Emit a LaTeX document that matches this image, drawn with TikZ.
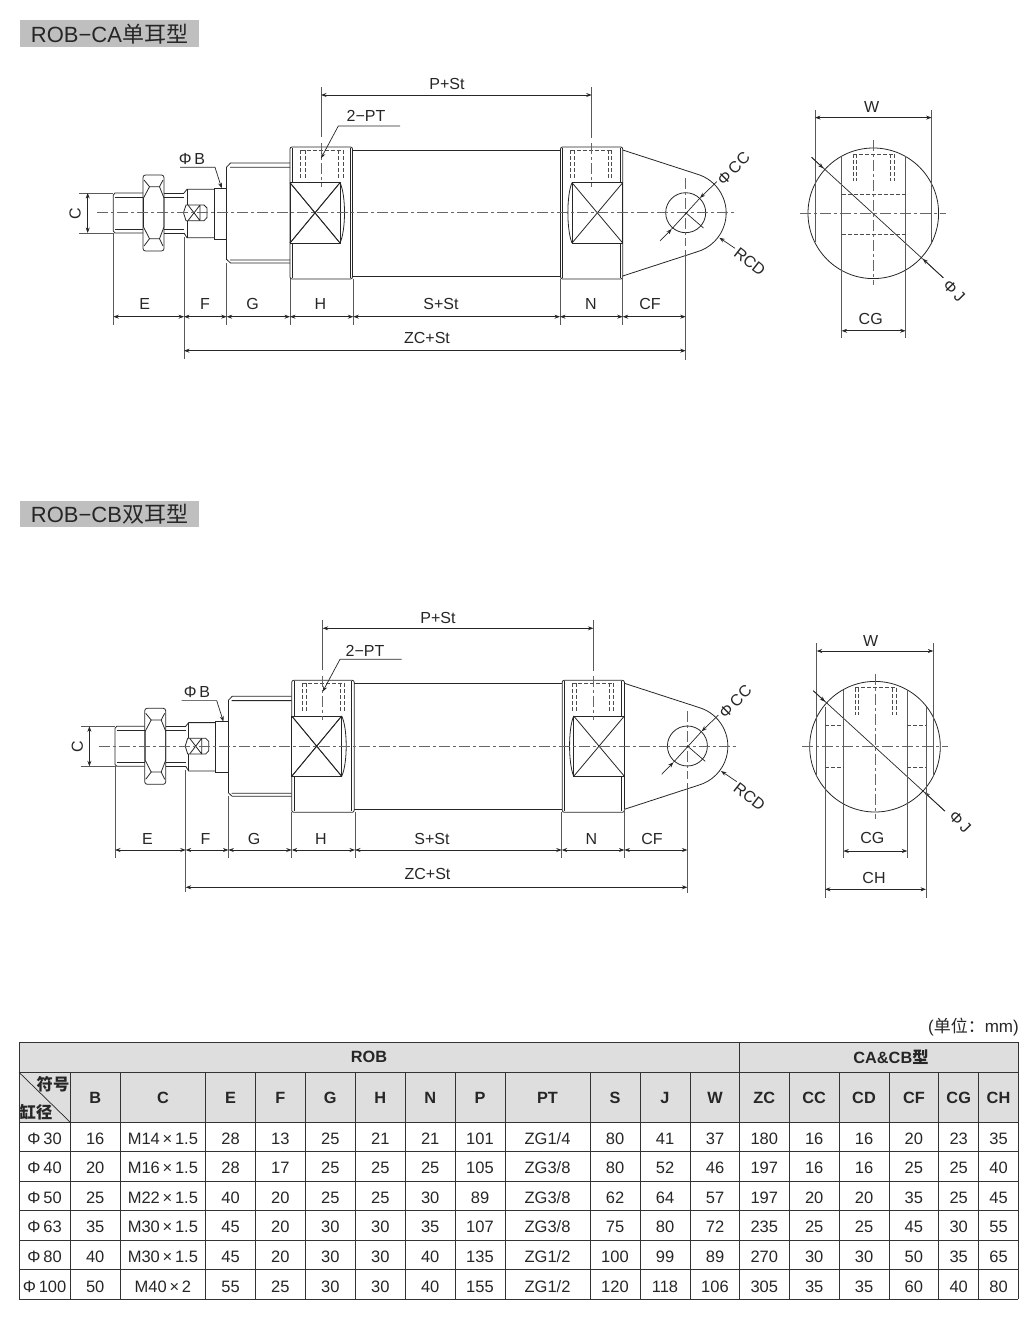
\documentclass[tikz,border=0pt]{standalone}
\usepackage{fontspec}
\setmainfont{Liberation Sans}
\newfontfamily\cjk{Noto Sans CJK SC}
\usetikzlibrary{arrows.meta}

\newcommand{\sizedim}{\fontsize{16}{18}\selectfont}
\def\colx{{44.6,95.2,162.9,230.5,280.3,330.3,380.3,430.2,480,547.5,615,665,715,764.3,814.2,864,913.9,958.7,998.5}}

% side view, common to both types
\newcommand{\robside}{
    \draw[outline] (113.3,195) -- (115,193) -- (143,193) (113.3,231) -- (115,233) -- (143,233) (113.3,195) -- (113.3,231);
    \draw[outline] (115,197) -- (143,197) (115,229.5) -- (143,229.5);
    \draw[outline,rounded corners=2.5] (143,175) rectangle (164,251);
    \draw[outline] (144,180) -- (149.5,186.7) -- (159.5,186.7) -- (163,180);
    \draw[outline] (149.5,186.7) -- (143.5,198) -- (143.5,227) -- (149.5,238.7) -- (159.5,238.7) -- (164,227) -- (164,198) -- (159.5,186.7);
    \draw[outline] (144,246) -- (149.5,238.7) (163,246) -- (159.5,238.7);
    \draw[outline] (164,193) -- (184,193) (164,197) -- (184,197) (164,229.5) -- (184,229.5) (164,233) -- (184,233);
    \draw[outline] (184,193) -- (187,189.3) -- (214,189.3) (184,233) -- (187,237.7) -- (214,237.7);
    \draw[outline] (187,189.3) -- (187,205) (187,220.7) -- (187,237.7);
    \draw[outline] (186,205) -- (204,205) -- (207,208) -- (207,217.5) -- (204,220.7) -- (186,220.7) -- (183.5,212.7) -- cycle;
    \draw[outline] (188,205) -- (200,220.7) (188,220.7) -- (200,205) (200,205) -- (200,220.7);
    \draw[outline] (214,188) rectangle (226.7,239);
    \draw[outline] (226.7,167) -- (230.5,163) -- (290,163) (230,167.3) -- (290,167.3);
    \draw[outline] (226.7,259.5) -- (230.5,263) -- (290,263) (230,260) -- (290,260);
    \draw[outline] (226.7,167) -- (226.7,259.5);
    % ported blocks and barrel
    \draw[outline,rounded corners=2] (290,147) rectangle (352.5,279);
    \draw[outline] (292.5,148) -- (292.5,278) (350,148) -- (350,278);
    \draw[outline,fill=white] (290,182.7) rectangle (340,243);
    \draw[outline] (290,182.7) -- (340,243) (290,243) -- (340,182.7);
    \draw[outline] (340,182.7) .. controls (346,195) and (346,230) .. (340,243);
    \draw[outline] (352.5,150) -- (560,150) (352.5,276) -- (560,276);
    \draw[outline,rounded corners=2] (560.5,147) rectangle (622.7,279);
    \draw[outline] (562.7,148) -- (562.7,278) (620,148) -- (620,278);
    \draw[outline,fill=white] (572,182.7) rectangle (622.7,243);
    \draw[outline] (572,182.7) -- (622.7,243) (572,243) -- (622.7,182.7);
    \draw[outline] (572,182.7) .. controls (566.5,195) and (566.5,230) .. (572,243);
    \foreach \portx in {300.7,305,338.5,343,570.7,574.3,608,611.7}
        \draw[hidden] (\portx,150) -- (\portx,178);
    \draw[hidden] (300.7,150) -- (343,150) (570.7,150) -- (611.7,150);
    % eye end
    \draw[outline] (622.7,150) -- (696.7,174) arc[start angle=-74.2,end angle=74.2,radius=40.5] -- (622.7,276);
    \draw[outline] (685.7,212.7) circle (20);
    % centre lines
    \draw[axis] (97,212.7) -- (737,212.7);
    \draw[axis] (321,143) -- (321,187) (591.7,143) -- (591.7,187) (685.7,178) -- (685.7,246);
    \draw[outline] (290,182.7) -- (340,243) (290,243) -- (340,182.7);
    % extension lines
    \draw[extline] (79,193) -- (113,193) (79,233) -- (113,233);
    \draw[extline] (113.3,233) -- (113.3,325) (184,237) -- (184,359) (226.7,263) -- (226.7,325) (290,279) -- (290,325);
    \draw[extline] (353.3,279) -- (353.3,325) (560,279) -- (560,325) (622.7,276) -- (622.7,325) (685.7,250) -- (685.7,360);
    \draw[extline] (321,87) -- (321,137) (591.7,87) -- (591.7,138);
    % dimensions
    \draw[dimline] (87.7,193) -- (87.7,233);
    \foreach \dimleft/\dimright in {113.3/184,184/226.7,226.7/290,290/353.3,353.3/560,560/622.7,622.7/685.7}
        \draw[dimline] (\dimleft,316.7) -- (\dimright,316.7);
    % leaders
    \draw[leader,->] (400,126) -- (338.3,126) -- (321,158.3);
    \draw[leader,->] (180,167.3) -- (215,167.3) -- (221.7,188.3);
    \draw[leader,->] (660,241) -- (671.7,229);
    \draw[leader] (671.7,229) -- (700,198);
    \draw[leader,->] (716.7,181.7) -- (700,198);
    \draw[leader] (685.7,212.7) -- (703.5,228);
    \draw[leader,->] (735,248.3) -- (719.3,237.7);
}

% end view, drawn round its centre
\newcommand{\robfront}{
    \draw[outline] (0,0) circle (65.3);
    \draw[axis] (-73,0) -- (73,0) (0,-73) -- (0,72);
    \draw[extline] (-58.3,-103.5) -- (-58.3,29) (58.3,-103.5) -- (58.3,29);
    \draw[dimline] (-58.3,-95.7) -- (58.3,-95.7);
    \draw[hidden] (-20,-59) -- (21,-59);
    \foreach \portx in {-20,-16.5,17.5,21}
        \draw[hidden] (\portx,-59) -- (\portx,-32);
    \draw[leader] (-61.7,-56) -- (70,64.5);
    \draw[leader,->] (-61.7,-56) -- (-50,-45);
    \draw[leader,->] (70,64.5) -- (49.5,45.5);
}

\begin{document}
\begin{tikzpicture}[x=1pt,y=-1pt,>={Stealth[length=5.5pt,width=4pt]},font=\sizedim,text=black!85]
    \tikzstyle{outline}=[draw=black!85,line width=.8pt]
    \tikzstyle{hidden}=[draw=black!70,line width=.7pt,dash pattern=on 4pt off 2pt]
    \tikzstyle{axis}=[draw=black!60,line width=.9pt,dash pattern=on 11pt off 3pt on 3pt off 3pt]
    \tikzstyle{extline}=[draw=black!65,line width=.85pt]
    \tikzstyle{dimline}=[<->,draw=black!85,line width=.7pt]
    \tikzstyle{leader}=[draw=black!85,line width=.7pt]
    \tikzstyle{tabline}=[draw=black!80,line width=.9pt]
    \tikzstyle{title}=[fill=black!25,minimum width=179pt,minimum height=26.5pt,inner sep=0pt,font=\fontsize{22}{24}\selectfont]
    \tikzstyle{cell}=[inner sep=0pt,text height=11.8pt,text depth=0pt,font=\fontsize{16.5}{18}\selectfont]
    \tikzstyle{head}=[inner sep=0pt,font=\fontsize{16.3}{18}\selectfont\bfseries]

    \useasboundingbox (0,0) rectangle (1035,1330);

    % ROB-CA
    \node[title] (titleCA) at (109.5,33.7) {ROB−CA{\cjk 单耳型}};
    \robside
    \draw[dimline] (184,350.7) -- (685.7,350.7);
    \draw[dimline] (321,95) -- (591.7,95);
    \foreach \name/\x/\y/\txt in {E/144.7/304/E,F/205/304/F,G/252.5/304/G,H/320.5/304/H,S/441/304/S+St,N/591/304/N,CF/650/304/CF,ZC/427/337.5/ZC+St,P/447/83.5/P+St,PT/366/116/2−PT,B/192/158.5/Φ\,B,W/871.7/106.5/W,CG/870.7/318.5/CG}
        \node[inner sep=0pt] (ca\name) at (\x,\y) {\txt};
    \node[inner sep=0pt,rotate=90] (caC) at (75,214) {C};
    \node[inner sep=0pt,rotate=45] (caCC) at (733.5,168.5) {Φ\,CC};
    \node[inner sep=0pt,rotate=-38] (caRCD) at (749.8,262) {RCD};
    \node[inner sep=0pt,rotate=-45] (caJ) at (954,291) {Φ\,J};
    \begin{scope}[shift={(873.3,213.3)}]
        \robfront
        \draw[extline] (-31.7,-57) -- (-31.7,125) (32.3,-57) -- (32.3,125);
        \draw[hidden] (-31.7,-19.3) -- (32.3,-19.3) (-31.7,20.7) -- (32.3,20.7);
        \draw[dimline] (-31.7,117.5) -- (32.3,117.5);
    \end{scope}

    % ROB-CB
    \node[title] (titleCB) at (109.5,514) {ROB−CB{\cjk 双耳型}};
    \begin{scope}[shift={(1.7,533.3)}]
        \robside
    \end{scope}
    \draw[dimline] (185.7,887.3) -- (687.4,887.3);
    \draw[dimline] (322.7,628.3) -- (593.4,628.3);
    \draw[extline] (185.7,860) -- (185.7,892);
    \draw[extline] (687.4,860) -- (687.4,893);
    \foreach \name/\x/\y/\txt in {E/147.5/838.5/E,F/205.5/838.5/F,G/254/838.5/G,H/321/838.5/H,S/432/838.5/S+St,N/591.5/838.5/N,CF/652/838.5/CF,ZC/427.5/873.5/ZC+St,P/438/617.5/P+St,PT/365/650.5/2−PT,B/197/691.5/Φ\,B,W/870.7/641/W,CG/872.3/837.5/CG,CH/874/878/CH}
        \node[inner sep=0pt] (cb\name) at (\x,\y) {\txt};
    \node[inner sep=0pt,rotate=90] (cbC) at (77.3,746.7) {C};
    \node[inner sep=0pt,rotate=45] (cbCC) at (735.3,701.5) {Φ\,CC};
    \node[inner sep=0pt,rotate=-38] (cbRCD) at (749.5,796.5) {RCD};
    \node[inner sep=0pt,rotate=-45] (cbJ) at (960,821.7) {Φ\,J};
    \begin{scope}[shift={(875,746.7)}]
        \robfront
        \draw[extline] (-31.7,-57) -- (-31.7,111.5) (32.3,-57) -- (32.3,111.5);
        \draw[extline] (-50,-40) -- (-50,151) (51,-40) -- (51,151);
        \draw[hidden] (-50,-21) -- (-31.7,-21) (32.3,-21) -- (51,-21) (-50,20.6) -- (-31.7,20.6) (32.3,20.6) -- (51,20.6);
        \draw[dimline] (-31.7,104.3) -- (32.3,104.3);
        \draw[dimline] (-50,142.6) -- (51,142.6);
    \end{scope}

    % table
    \node[inner sep=0pt,anchor=east,font=\fontsize{17}{18}\selectfont] (unit) at (1019,1027) {({\cjk 单位：}mm)};
    \fill[black!13] (19,1042.3) rectangle (1018.3,1122.3);
    \foreach \liney in {1042.3,1072.3,1122.3,1151.8,1181.3,1210.8,1240.3,1269.8,1299.3}
        \draw[tabline] (19,\liney) -- (1018.3,\liney);
    \foreach \linex in {19,739.3,1018.3}
        \draw[tabline] (\linex,1042.3) -- (\linex,1299.3);
    \foreach \linex in {70.3,120,205.7,255.3,305.3,355.3,405,455,505,590,640,690,789.3,839,889,938.7,978.7}
        \draw[tabline] (\linex,1072.3) -- (\linex,1299.3);
    \draw[leader] (19,1072.3) -- (70.3,1122.3);
    \node[head] (rob) at (369,1057.3) {ROB};
    \node[head] (cacb) at (891,1057.3) {CA\&CB{\cjk 型}};
    \node[head] (fuhao) at (53,1084) {\cjk 符号};
    \node[head] (gangjing) at (36,1112) {\cjk 缸径};
    \foreach \hd [count=\colnum] in {B,C,E,F,G,H,N,P,PT,S,J,W,ZC,CC,CD,CF,CG,CH} {
        \pgfmathsetmacro\cx{\colx[\colnum]}
        \node[head] (hd\colnum) at (\cx,1097.5) {\hd};
    }
    \foreach \cells [count=\rownum] in {
        {Φ\,30,16,M14\,×\,1.5,28,13,25,21,21,101,ZG1/4,80,41,37,180,16,16,20,23,35},
        {Φ\,40,20,M16\,×\,1.5,28,17,25,25,25,105,ZG3/8,80,52,46,197,16,16,25,25,40},
        {Φ\,50,25,M22\,×\,1.5,40,20,25,25,30,89,ZG3/8,62,64,57,197,20,20,35,25,45},
        {Φ\,63,35,M30\,×\,1.5,45,20,30,30,35,107,ZG3/8,75,80,72,235,25,25,45,30,55},
        {Φ\,80,40,M30\,×\,1.5,45,20,30,30,40,135,ZG1/2,100,99,89,270,30,30,50,35,65},
        {Φ\,100,50,M40\,×\,2,55,25,30,30,40,155,ZG1/2,120,118,106,305,35,35,60,40,80}} {
        \foreach \val [count=\colnum] in \cells {
            \pgfmathsetmacro\cx{\colx[\colnum-1]}
            \pgfmathsetmacro\cy{1138.2+(\rownum-1)*29.6}
            \node[cell] (r\rownum c\colnum) at (\cx,\cy) {\val};
        }
    }
\end{tikzpicture}
\end{document}
